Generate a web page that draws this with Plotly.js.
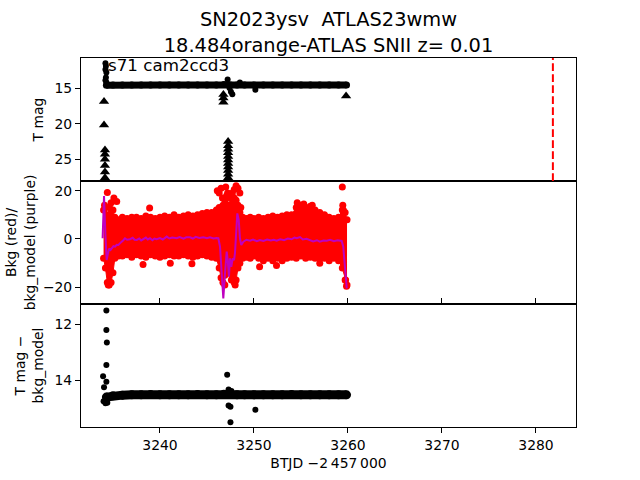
<!DOCTYPE html>
<html>
<head>
<meta charset="utf-8">
<script src="https://cdn.plot.ly/plotly-3.0.1.min.js"></script>
<style>html,body{margin:0;padding:0;background:#fff;}#chart{width:640px;height:480px;}</style>
</head>
<body>
<div id="chart"></div>
<script>
// ---------- Panel 1: T mag ----------
const tmagBandX = [3234.3, 3235, 3236, 3237, 3238, 3239, 3240, 3241, 3242, 3243, 3244, 3245, 3246, 3246.8, 3247.5, 3248.2, 3249, 3250, 3251, 3252, 3253, 3254, 3255, 3256, 3257, 3258, 3259, 3259.85];
const tmagBand  = [14.6, 14.57, 14.56, 14.56, 14.57, 14.55, 14.56, 14.57, 14.56, 14.55, 14.56, 14.57, 14.56, 14.5, 14.55, 14.57, 14.57, 14.56, 14.57, 14.56, 14.56, 14.55, 14.57, 14.56, 14.56, 14.57, 14.56, 14.57];
const tmagDotsX = [3234.2, 3234.25, 3234.2, 3234.3, 3234.25, 3234.2, 3234.3, 3247.2, 3247.4, 3247.55, 3247.7, 3248.5, 3250.15];
const tmagDotsY = [11.5, 11.9, 12.4, 12.8, 13.5, 13.9, 14.2, 13.8, 15.0, 15.5, 15.85, 14.2, 15.25];
const limitX = [3234.05, 3234.05, 3234.15, 3234.15, 3234.15, 3234.15, 3234.15, 3234.15,
                3246.75, 3246.75, 3246.75,
                3247.25, 3247.25, 3247.25, 3247.25, 3247.25, 3247.25, 3247.25, 3247.25, 3247.25, 3247.25, 3247.25,
                3259.8];
const limitY = [16.9, 20.2, 23.7, 24.3, 25.0, 25.9, 26.8, 27.6,
                15.9, 16.4, 17.0,
                22.5, 23.1, 23.6, 24.1, 24.6, 25.1, 25.6, 26.1, 26.6, 27.1, 27.6,
                16.1];
const discoveryDate = [3281.8];

// ---------- Panel 2: Bkg (red) and bkg_model (purple) ----------
const bkgX  = [3234.0, 3234.2, 3234.4, 3234.6, 3234.8, 3235.0, 3235.2, 3235.6, 3236.0, 3236.5, 3237.0, 3237.5, 3238.0, 3238.5, 3239.0, 3239.5, 3240.0, 3240.5, 3241.0, 3241.5, 3242.0, 3242.5, 3243.0, 3243.5, 3244.0, 3244.5, 3245.0, 3245.5, 3246.0, 3246.3, 3246.5, 3246.7, 3246.9, 3247.1, 3247.3, 3247.5, 3247.7, 3247.9, 3248.1, 3248.3, 3248.5, 3248.8, 3249.2, 3249.6, 3250.0, 3250.5, 3251.0, 3251.5, 3252.0, 3252.5, 3253.0, 3253.5, 3254.0, 3254.5, 3255.0, 3255.5, 3256.0, 3256.5, 3257.0, 3257.5, 3258.0, 3258.5, 3259.0, 3259.4, 3259.7, 3259.9];
const bkgHi = [12, 13, 10, 13, 15, 12, 9, 8, 9, 8.5, 9, 9, 8.5, 9.5, 9, 8.5, 9, 9.5, 9, 10, 9, 9.5, 10, 9.5, 10, 10.5, 11, 11, 12, 13, 11, 14, 16, 18, 14, 17, 19, 17, 16, 14, 11, 9, 8.5, 9, 8.5, 9, 8.5, 9, 9.5, 9, 9.5, 10, 10, 13, 14, 13, 13.5, 12, 11, 10, 9, 8.5, 9, 12, 11, 8];
const bkgLo = [-8, -12, -18, -19, -18, -14, -8, -7, -7, -6.5, -7.5, -6.5, -7, -7.5, -6.5, -7, -7.5, -7, -6.5, -7, -7, -6.5, -7, -7.5, -7, -6.5, -7, -7.5, -8, -12, -16, -18, -15, -12, -14, -13, -16, -18, -17, -12, -10, -8, -7.5, -8, -7, -8, -9, -8, -9, -8, -9, -8, -7.5, -8, -7, -8, -7.5, -8, -10, -8, -9, -8, -9, -12, -17, -19];
const bkgOutX = [3234.4, 3235.4, 3235.1, 3238.9, 3243.4, 3238.2, 3241.1, 3246.1, 3246.3, 3246.5, 3246.65, 3247.0, 3247.2, 3247.9, 3248.1, 3248.3, 3248.5, 3248.6, 3246.9, 3247.6, 3248.0, 3250.6, 3252.4, 3254.6, 3255.3, 3256.2, 3259.4, 3259.45, 3259.5, 3259.75, 3259.85, 3234.1, 3234.5];
const bkgOutY = [19.2, 15.5, 17, 12.8, -10.2, -10.5, -10, 20, 19, 21, 17, 21.5, 19, 20.5, 22, 21, 19, 13, -19, -17, -19, -11.5, -11, 15, 14.5, 14, 21.5, 14, 12, -17, -19.5, 14, -19];
const modelX = [3233.9, 3234.05, 3234.19, 3234.33, 3234.47, 3234.61, 3234.75, 3234.87, 3235.05, 3235.22, 3235.4, 3235.57, 3235.75, 3235.93, 3236.1, 3236.28, 3236.5, 3236.81, 3237.1, 3237.3, 3237.53, 3237.8, 3238.0, 3238.23, 3238.5, 3238.7, 3238.94, 3239.2, 3239.4, 3239.65, 3240.0, 3240.3, 3240.72, 3241.0, 3241.3, 3241.78, 3242.1, 3242.5, 3242.8, 3243.2, 3243.5, 3243.8, 3244.2, 3244.61, 3245.0, 3245.32, 3245.7, 3246.0, 3246.21, 3246.39, 3246.57, 3246.74, 3246.95, 3247.10, 3247.21, 3247.34, 3247.45, 3247.59, 3247.74, 3247.88, 3247.98, 3248.09, 3248.23, 3248.38, 3248.51, 3248.65, 3248.87, 3249.2, 3249.58, 3249.9, 3250.3, 3250.64, 3251.0, 3251.4, 3251.8, 3252.1, 3252.42, 3252.8, 3253.2, 3253.6, 3254.0, 3254.3, 3254.55, 3254.9, 3255.2, 3255.6, 3255.96, 3256.3, 3256.7, 3257.0, 3257.4, 3257.74, 3258.1, 3258.5, 3258.9, 3259.33, 3259.50, 3259.69, 3259.87];
const modelY = [0.3, 17.8, 2.4, -8.7, -5.9, -3.9, -4.5, -3.9, -3.0, -3.2, -2.4, -2.5, -1.6, -1.1, -0.5, 0.3, -0.3, -0.1, 0.5, -0.3, -0.4, 0.2, -0.6, -0.1, 0.6, -0.2, 0.3, -0.5, 0.2, -0.1, 0.4, -0.2, 1.0, 0.2, 0.6, 0.3, 0.8, 0.1, 0.7, 0.7, 0.2, 0.9, 0.4, 0.7, 0.3, 0.7, 0.2, 0.4, 0.3, -3.2, -14.2, -24.6, -12.8, -5.2, -8.7, -15.6, -8.0, -11.5, -8.0, -8.7, -5.9, 1.0, 10.6, 7.9, 0.3, -2.5, -1.1, -0.3, -0.7, -0.2, -0.9, -0.4, -0.8, -0.2, -0.6, -0.3, -0.7, -0.1, -0.5, 0.2, -0.1, 0.6, 0.3, 0.8, -0.2, 0.1, -0.4, -1.0, -0.5, -1.1, -0.6, -0.7, -0.3, -0.9, -0.5, -0.8, -3.2, -14.2, -20.4];

// ---------- Panel 3: T mag - bkg_model ----------
const diffBandX = tmagBandX;
const diffBand  = [14.6, 14.55, 14.53, 14.52, 14.52, 14.51, 14.52, 14.52, 14.52, 14.52, 14.51, 14.52, 14.52, 14.5, 14.5, 14.52, 14.52, 14.52, 14.52, 14.52, 14.52, 14.51, 14.52, 14.52, 14.52, 14.52, 14.52, 14.52];
const diffDotsX = [3234.3, 3234.3, 3234.35, 3234.3, 3233.95, 3234.3, 3234.05, 3234.0, 3234.2, 3234.4, 3247.15, 3247.3, 3247.5, 3247.5, 3250.15, 3247.3, 3247.6];
const diffDotsY = [11.5, 12.2, 12.65, 13.45, 13.85, 14.05, 14.25, 14.75, 14.82, 14.8, 13.8, 14.9, 14.95, 15.5, 15.05, 14.33, 14.38];

const FONT = 'DejaVu Sans';
const RED = '#ff0000', MAG = '#bf00bf', BLK = '#000000';

const traces = [
  // panel 1
  {x: tmagBandX, y: tmagBand, xaxis: 'x', yaxis: 'y', mode: 'lines+markers',
   line: {color: BLK, width: 7}, marker: {color: BLK, size: 7}},
  {x: tmagDotsX, y: tmagDotsY, xaxis: 'x', yaxis: 'y', mode: 'markers',
   marker: {color: BLK, size: 6}},
  {x: limitX, y: limitY, xaxis: 'x', yaxis: 'y', mode: 'markers',
   marker: {color: BLK, size: 9, symbol: 'triangle-up'}},
  // panel 2
  {x: bkgX, y: bkgLo, xaxis: 'x', yaxis: 'y2', mode: 'lines+markers',
   line: {color: RED, width: 1}, marker: {color: RED, size: 7}},
  {x: bkgX, y: bkgHi, xaxis: 'x', yaxis: 'y2', mode: 'lines+markers', fill: 'tonexty', fillcolor: RED,
   line: {color: RED, width: 1}, marker: {color: RED, size: 7}},
  {x: bkgOutX, y: bkgOutY, xaxis: 'x', yaxis: 'y2', mode: 'markers',
   marker: {color: RED, size: 7}},
  {x: modelX, y: modelY, xaxis: 'x', yaxis: 'y2', mode: 'lines',
   line: {color: MAG, width: 2}},
  // panel 3
  {x: diffBandX, y: diffBand, xaxis: 'x', yaxis: 'y3', mode: 'lines+markers',
   line: {color: BLK, width: 9}, marker: {color: BLK, size: 9}},
  {x: diffDotsX, y: diffDotsY, xaxis: 'x', yaxis: 'y3', mode: 'markers',
   marker: {color: BLK, size: 6}}
];

const yCommon = {
  anchor: 'x', showline: true, mirror: true, linecolor: BLK, linewidth: 1,
  ticks: 'outside', ticklen: 5, tickwidth: 1, tickcolor: BLK,
  showgrid: false, zeroline: false,
  tickfont: {family: FONT, size: 13.9, color: BLK},
  title: {font: {family: FONT, size: 13.9, color: BLK}, standoff: 7}
};

const layout = {
  width: 640, height: 480,
  margin: {l: 81, r: 64, t: 58, b: 53},
  paper_bgcolor: '#fff', plot_bgcolor: '#fff',
  showlegend: false,
  font: {family: FONT, color: BLK},
  title: {text: 'SN2023ysv\u00a0 ATLAS23wmw<br>18.484orange-ATLAS SNII z= 0.01',
          font: {family: FONT, size: 19.4, color: BLK},
          x: 0.5, xref: 'paper', xanchor: 'center', y: 0.945, yref: 'container', yanchor: 'top'},
  xaxis: {
    anchor: 'y3', domain: [0, 1], range: [3231.6, 3284.26],
    showline: true, mirror: 'all', linecolor: BLK, linewidth: 1,
    ticks: 'outside', ticklen: 5, tickwidth: 1, tickcolor: BLK,
    showgrid: false, zeroline: false, dtick: 10, tick0: 3240,
    tickfont: {family: FONT, size: 13.9, color: BLK},
    title: {text: 'BTJD \u22122\u2009457\u2009000', font: {family: FONT, size: 13.9, color: BLK}, standoff: 6}
  },
  yaxis: Object.assign({}, yCommon, {domain: [0.6667, 1], range: [28.06, 10.77], tickvals: [15, 20, 25],
    title: Object.assign({}, yCommon.title, {text: 'T mag'})}),
  yaxis2: Object.assign({}, yCommon, {domain: [0.3333, 0.6667], range: [-26.9, 24.0], tickvals: [-20, 0, 20],
    title: Object.assign({}, yCommon.title, {text: 'Bkg (red)/<br>bkg_model (purple)', standoff: 4})}),
  yaxis3: Object.assign({}, yCommon, {domain: [0, 0.3333], range: [15.67, 11.27], tickvals: [12, 14],
    title: Object.assign({}, yCommon.title, {text: 'T mag \u2212<br>bkg_model'})}),
  shapes: [{type: 'line', xref: 'x', yref: 'y domain', x0: discoveryDate[0], x1: discoveryDate[0], y0: 0, y1: 1,
            line: {color: RED, width: 2, dash: '7.7px,3.3px'}}],
  annotations: [{text: 's71 cam2ccd3', xref: 'paper', yref: 'paper', x: 0.05, y: 0.981,
                 xanchor: 'left', yanchor: 'middle', showarrow: false,
                 font: {family: FONT, size: 16.7, color: BLK}}]
};

Plotly.newPlot('chart', traces, layout, {staticPlot: true, displayModeBar: false});
</script>
</body>
</html>
